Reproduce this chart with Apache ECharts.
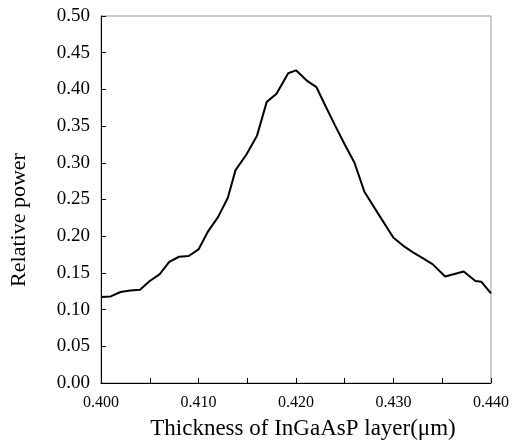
<!DOCTYPE html>
<html>
<head>
<meta charset="utf-8">
<script src="https://cdn.jsdelivr.net/npm/echarts@6/dist/echarts.min.js"></script>
<style>
    html, body { margin: 0; padding: 0; background: #fff; }
    #chart { width: 514px; height: 446px; }
</style>
</head>
<body>
<div id="chart"></div>
<script>
    // thickness (um) and relative power
    const thickness = [0.400, 0.401, 0.402, 0.403, 0.404, 0.405, 0.406, 0.407, 0.408, 0.409,
        0.410, 0.411, 0.412, 0.413, 0.4138, 0.4149, 0.416, 0.417, 0.418, 0.4192,
        0.420, 0.4211, 0.4221, 0.423, 0.424, 0.425, 0.426, 0.427, 0.4286, 0.430,
        0.4312, 0.432, 0.433, 0.434, 0.4353, 0.4372, 0.4384, 0.439, 0.440]
    const power = [0.117, 0.118, 0.124, 0.126, 0.127, 0.139, 0.148, 0.165, 0.172, 0.173,
        0.182, 0.207, 0.226, 0.252, 0.290, 0.311, 0.337, 0.383, 0.394, 0.422,
        0.426, 0.412, 0.403, 0.378, 0.351, 0.325, 0.300, 0.261, 0.227, 0.198,
        0.185, 0.178, 0.170, 0.162, 0.145, 0.152, 0.139, 0.138, 0.122]

    const xTitle = 'Thickness of InGaAsP layer(μm)'
    const yTitle = 'Relative power'
    const serif = "'Liberation Serif', 'Times New Roman', serif"

    let myChart = echarts.init(document.getElementById('chart'))
    let option = {
        animation: false,
        grid: {
            left: 101,
            right: 23,
            top: 16,
            bottom: 63,
            show: true,
            borderColor: '#999',
            borderWidth: 1
        },
        xAxis: {
            type: 'value',
            min: 0.400,
            max: 0.440,
            interval: 0.005,
            name: xTitle,
            nameLocation: 'middle',
            nameGap: 34,
            nameTextStyle: { fontFamily: serif, fontSize: 23, color: '#000', padding: [0, 0, 0, 14] },
            axisLine: { lineStyle: { color: '#000', width: 1 } },
            axisTick: { inside: true, length: 5, lineStyle: { color: '#000' } },
            axisLabel: {
                margin: 12,
                fontFamily: serif,
                fontSize: 16,
                color: '#000',
                formatter: function (v) {
                    return Math.round(v * 1000) % 10 === 0 ? v.toFixed(3) : ''
                }
            },
            splitLine: { show: false }
        },
        yAxis: {
            type: 'value',
            min: 0,
            max: 0.5,
            interval: 0.05,
            axisLine: { show: true, lineStyle: { color: '#000', width: 1 } },
            axisTick: { show: true, inside: true, length: 5, lineStyle: { color: '#000' } },
            axisLabel: {
                margin: 11,
                fontFamily: serif,
                fontSize: 19,
                color: '#000',
                formatter: function (v) { return v.toFixed(2) }
            },
            splitLine: { show: false }
        },
        graphic: [{
            type: 'text',
            x: 8,
            y: 220,
            rotation: Math.PI / 2,
            style: {
                text: yTitle,
                fontFamily: serif,
                fontSize: 22,
                fill: '#000',
                align: 'center',
                verticalAlign: 'top'
            }
        }],
        series: [{
            type: 'line',
            data: thickness.map((t, i) => [t, power[i]]),
            showSymbol: false,
            lineStyle: { color: '#000', width: 2 }
        }]
    }
    myChart.setOption(option)
</script>
</body>
</html>
